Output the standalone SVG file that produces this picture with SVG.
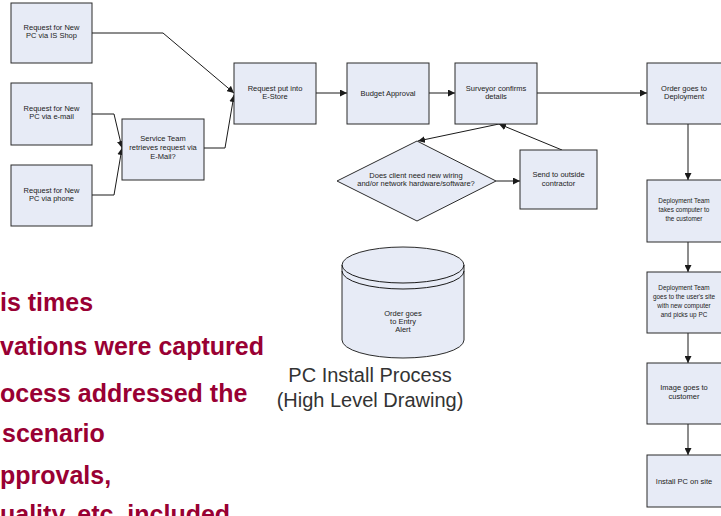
<svg xmlns="http://www.w3.org/2000/svg" width="721" height="516" viewBox="0 0 721 516">
<style>
.box{fill:#e7ebf6;stroke:#2b2b2b;stroke-width:1}
.bt{font-family:"Liberation Sans",Arial,sans-serif;font-size:7.5px;fill:#222;text-anchor:middle}
.sm{font-size:6.4px}
.conn{fill:none;stroke:#1a1a1a;stroke-width:1}
.bul{font-family:"Liberation Sans",Arial,sans-serif;font-size:25px;font-weight:bold;fill:#990033}
.title{font-family:"Liberation Sans",Arial,sans-serif;font-size:20px;fill:#333;text-anchor:middle}
</style>
<defs>
<marker id="ah" viewBox="0 0 10 10" refX="10" refY="5" markerWidth="7" markerHeight="7" orient="auto" markerUnits="userSpaceOnUse">
<path d="M0,0 L10,5 L0,10 z" fill="#1a1a1a"/>
</marker>
</defs>
<rect width="721" height="516" fill="#ffffff"/>

<g id="connectors">
<polyline class="conn" points="92,33 163,33 234,93" marker-end="url(#ah)"/>
<polyline class="conn" points="92,114 114,114 122,148" marker-end="url(#ah)"/>
<polyline class="conn" points="92,195 114,195 122,148" marker-end="url(#ah)"/>
<polyline class="conn" points="204,148 225,148 234,95" marker-end="url(#ah)"/>
<line class="conn" x1="316" y1="93" x2="347" y2="93" marker-end="url(#ah)"/>
<line class="conn" x1="429" y1="93" x2="455" y2="93" marker-end="url(#ah)"/>
<line class="conn" x1="537" y1="93" x2="647" y2="93" marker-end="url(#ah)"/>
<line class="conn" x1="499" y1="124" x2="418" y2="141" marker-end="url(#ah)"/>
<line class="conn" x1="562" y1="150" x2="499" y2="124" marker-end="url(#ah)"/>
<line class="conn" x1="496" y1="181" x2="520" y2="181" marker-end="url(#ah)"/>
<line class="conn" x1="688" y1="124" x2="688" y2="180" marker-end="url(#ah)"/>
<line class="conn" x1="688" y1="242" x2="688" y2="272" marker-end="url(#ah)"/>
<line class="conn" x1="688" y1="333" x2="688" y2="363" marker-end="url(#ah)"/>
<line class="conn" x1="688" y1="424" x2="688" y2="455" marker-end="url(#ah)"/>
</g>

<g id="req-shop"><rect class="box" x="11" y="3" width="81" height="60"/>
<text class="bt" x="51.5" y="30">Request for New</text><text class="bt" x="51.5" y="38">PC via IS Shop</text></g>
<g id="req-email"><rect class="box" x="11" y="83" width="81" height="62"/>
<text class="bt" x="51.5" y="111">Request for New</text><text class="bt" x="51.5" y="119">PC via e-mail</text></g>
<g id="req-phone"><rect class="box" x="11" y="165" width="81" height="61"/>
<text class="bt" x="51.5" y="193">Request for New</text><text class="bt" x="51.5" y="201">PC via phone</text></g>
<g id="service-team"><rect class="box" x="122" y="119" width="82" height="61"/>
<text class="bt" x="163" y="141">Service Team</text><text class="bt" x="163" y="150">retrieves request via</text><text class="bt" x="163" y="159">E-Mail?</text></g>
<g id="request-put"><rect class="box" x="234" y="63" width="82" height="61"/>
<text class="bt" x="275" y="91">Request put into</text><text class="bt" x="275" y="99">E-Store</text></g>
<g id="budget"><rect class="box" x="347" y="63" width="82" height="61"/>
<text class="bt" x="388" y="96">Budget Approval</text></g>
<g id="surveyor"><rect class="box" x="455" y="63" width="82" height="61"/>
<text class="bt" x="496" y="91">Surveyor confirms</text><text class="bt" x="496" y="99">details</text></g>
<g id="decision"><polygon class="box" points="417,141 496,181 417,221 337,181"/>
<text class="bt" x="416" y="178">Does client need new wiring</text><text class="bt" x="416" y="186">and/or network hardware/software?</text></g>
<g id="contractor"><rect class="box" x="520" y="150" width="77" height="59"/>
<text class="bt" x="558.5" y="177">Send to outside</text><text class="bt" x="558.5" y="186">contractor</text></g>
<g id="order-goes"><rect class="box" x="647" y="63" width="82" height="61"/>
<text class="bt" x="684" y="91">Order goes to</text><text class="bt" x="684" y="99">Deployment</text></g>
<g id="deploy-takes"><rect class="box" x="647" y="180" width="82" height="62"/>
<text class="bt sm" x="684" y="203">Deployment Team</text><text class="bt sm" x="684" y="212">takes computer to</text><text class="bt sm" x="684" y="221">the customer</text></g>
<g id="deploy-goes"><rect class="box" x="647" y="272" width="82" height="61"/>
<text class="bt sm" x="684" y="290">Deployment Team</text><text class="bt sm" x="684" y="299">goes to the user's site</text><text class="bt sm" x="684" y="308">with new computer</text><text class="bt sm" x="684" y="317">and picks up PC</text></g>
<g id="image-goes"><rect class="box" x="647" y="363" width="82" height="61"/>
<text class="bt" x="684" y="390">Image goes to</text><text class="bt" x="684" y="399">customer</text></g>
<g id="install"><rect class="box" x="647" y="455" width="82" height="52"/>
<text class="bt" x="684" y="484">Install PC on site</text></g>

<g id="cylinder">
<path class="box" d="M342,265 L342,340 A61,18 0 0 0 464,340 L464,265 A61,18 0 0 0 342,265 Z"/>
<path class="conn" d="M342,265 A61,18 0 0 0 464,265"/>
<path class="conn" stroke="#2b2b2b" d="M342,271 A61,18 0 0 0 464,271"/>
<text class="bt" x="403" y="316">Order goes</text><text class="bt" x="403" y="324">to Entry</text><text class="bt" x="403" y="332">Alert</text>
</g>

<g id="title">
<text class="title" x="370" y="382">PC Install Process</text>
<text class="title" x="370" y="407">(High Level Drawing)</text>
</g>

<g id="bullets">
<text class="bul" x="0" y="311">is times</text>
<text class="bul" x="0" y="355">vations were captured</text>
<text class="bul" x="0" y="402">ocess addressed the</text>
<text class="bul" x="2" y="442">scenario</text>
<text class="bul" x="0" y="484">pprovals,</text>
<text class="bul" x="0" y="523">uality, etc. included</text>
</g>
</svg>
